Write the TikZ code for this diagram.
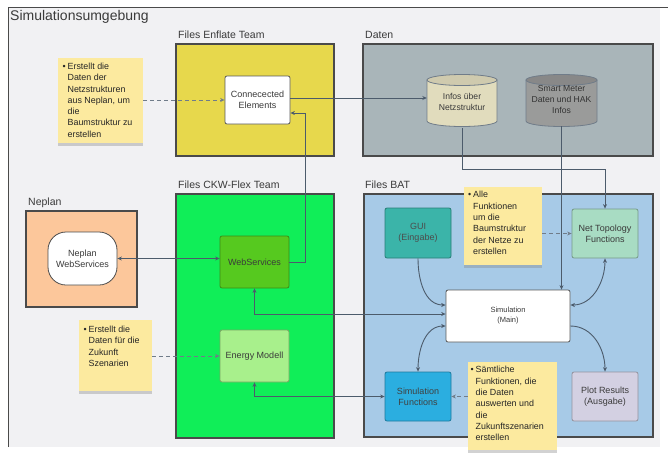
\documentclass[tikz,border=0pt]{standalone}
\usepackage{fontspec}
\setmainfont{Liberation Sans}
\usetikzlibrary{arrows.meta,shadows,calc}
\definecolor{outerbg}{HTML}{F1F1F3}
\definecolor{frame}{HTML}{4A4A4A}
\definecolor{enflate}{HTML}{E7D84C}
\definecolor{daten}{HTML}{A9B5B9}
\definecolor{ckw}{HTML}{10EE58}
\definecolor{neplan}{HTML}{FCC79B}
\definecolor{bat}{HTML}{A7CAE7}
\definecolor{wsgreen}{HTML}{56C91F}
\definecolor{emgreen}{HTML}{A8F08C}
\definecolor{guiteal}{HTML}{3BB4A9}
\definecolor{ntmint}{HTML}{A8DCC3}
\definecolor{sfblue}{HTML}{2BAEE0}
\definecolor{plotlav}{HTML}{D3D0E2}
\definecolor{noteyel}{HTML}{FCEA9F}
\definecolor{cylbeige}{HTML}{E1DCBD}
\definecolor{cylgray}{HTML}{9A9B9A}
\definecolor{linec}{HTML}{4C5B6B}
\definecolor{txt}{HTML}{3A3A3A}
\tikzset{
  team/.style={draw=frame, line width=1.4pt},
  teamlabel/.style={anchor=base west, inner sep=0pt, text=txt, font=\fontsize{10.5}{12}\selectfont},
  box/.style={draw=#1!70!black, fill=#1, line width=0.8pt, rounded corners=2pt, align=center, inner sep=1pt,
    font=\fontsize{9}{11}\selectfont, text=txt},
  note/.style={fill=noteyel, inner sep=0pt, drop shadow={shadow xshift=0pt, shadow yshift=-2.5pt, opacity=0.35},
    font=\fontsize{8.9}{11.3}\selectfont, text=black!85},
  conn/.style={draw=linec, line width=0.9pt, -{Stealth[length=4.5pt,width=4pt]}},
  dconn/.style={draw=linec, line width=0.9pt, {Stealth[length=4.5pt,width=4pt]}-{Stealth[length=4.5pt,width=4pt]}},
  dashconn/.style={draw=linec!80, line width=0.8pt, dashed, dash pattern=on 4pt off 3pt, -{Stealth[length=4.5pt,width=4pt]}},
}
\newcommand{\notetext}[3]{\parbox[c][#2pt][t]{#1pt}{\raggedright
  \begin{tabular}[t]{@{}l@{\hspace{2pt}}l@{}}#3\end{tabular}}}
\begin{document}
\begin{tikzpicture}[x=1pt,y=-1pt]
\useasboundingbox (0,0) rectangle (668,455);
\fill[white] (0,0) rectangle (668,455);
% outer frame
\fill[outerbg] (8,7) rectangle (660,447);
\draw[frame, line width=1pt] (8,447) -- (8,7) -- (668,7);
\node[anchor=base west, inner sep=0pt, text=txt, font=\fontsize{14}{16}\selectfont] (title) at (10,20) {Simulationsumgebung};

% team boxes
\node[teamlabel] (lblEnf) at (178,38) {Files Enflate Team};
\draw[team, fill=enflate] (176,44) rectangle (334,156);
\node[teamlabel] (lblDat) at (365,38) {Daten};
\draw[team, fill=daten] (363,44) rectangle (653,156);
\node[teamlabel] (lblCkw) at (178,188) {Files CKW-Flex Team};
\draw[team, fill=ckw] (176,194) rectangle (334,438);
\node[teamlabel] (lblNep) at (28,205) {Neplan};
\draw[team, fill=neplan] (26,211) rectangle (137,307);
\node[teamlabel] (lblBat) at (365,188) {Files BAT};
\draw[team, fill=bat] (364,194) rectangle (653,437);

% cylinders
\fill[cylbeige, draw=linec!80, line width=0.8pt] (427,80) -- (427,121) arc[start angle=180,end angle=360,x radius=35pt,y radius=5.5pt] -- (497,80) -- cycle;
\draw[fill=cylbeige!92!black, line width=0.8pt, draw=linec!80] (462,80) ellipse[x radius=35pt, y radius=5.5pt];
\node[minimum width=70pt, minimum height=52pt, align=center, text=txt, font=\fontsize{8.6}{11}\selectfont] (cylA) at (462,102) {Infos über\\Netzstruktur};
\fill[cylgray, draw=linec!80, line width=0.8pt] (526,80) -- (526,121) arc[start angle=180,end angle=360,x radius=35.5pt,y radius=5.5pt] -- (597,80) -- cycle;
\draw[fill=cylgray!88!black, line width=0.8pt, draw=linec!80] (561.5,80) ellipse[x radius=35.5pt, y radius=5.5pt];
\node[minimum width=71pt, minimum height=52pt, align=center, text=black!80, font=\fontsize{8.6}{11}\selectfont] (cylB) at (561.5,100) {Smart Meter\\Daten und HAK\\Infos};

% boxes
\node[box=white, draw=gray!70!black, minimum width=65pt, minimum height=48pt] (ce) at (257.5,100) {Connecected\\Elements};
\node[box=wsgreen, minimum width=69pt, minimum height=52pt] (ws) at (254.5,262) {WebServices};
\node[box=emgreen, minimum width=69pt, minimum height=52pt] (em) at (254.5,356) {Energy Modell};
\node[box=white, draw=gray!60!black, rounded corners=18pt, minimum width=69pt, minimum height=53pt] (nws) at (82.5,258.5) {Neplan\\WebServices};
\node[box=guiteal, text=black!70, minimum width=66pt, minimum height=50pt] (gui) at (418,233) {GUI\\(Eingabe)};
\node[box=ntmint, minimum width=66pt, minimum height=49pt] (nt) at (605,233.5) {Net Topology\\Functions};
\node[box=white, draw=gray!70!black, font=\fontsize{7.5}{10}\selectfont, minimum width=124pt, minimum height=52pt] (sim) at (508,316) {Simulation\\(Main)};
\node[box=sfblue, text=black!75, minimum width=66pt, minimum height=49pt] (sf) at (418,396.5) {Simulation\\Functions};
\node[box=plotlav, minimum width=66pt, minimum height=49pt] (plot) at (605,396.5) {Plot Results\\(Ausgabe)};

% notes
\node[note, minimum width=85pt, minimum height=85pt] (n1) at (100.5,100.5)
  {\notetext{76}{78}{\textbullet & Erstellt die\\ & Daten der\\ & Netzstrukturen\\ & aus Neplan, um\\ & die\\ & Baumstruktur zu\\ & erstellen}};
\node[note, minimum width=78pt, minimum height=78pt] (n2) at (503,226)
  {\notetext{70}{72}{\textbullet & Alle\\ & Funktionen\\ & um die\\ & Baumstruktur\\ & der Netze zu\\ & erstellen}};
\node[note, minimum width=89pt, minimum height=88pt] (n3) at (512.5,406)
  {\notetext{84}{82}{\textbullet & Sämtliche\\ & Funktionen, die\\ & die Daten\\ & auswerten und\\ & die\\ & Zukunftszenarien\\ & erstellen}};
\node[note, minimum width=73pt, minimum height=71pt] (n4) at (115.5,355.5)
  {\notetext{64}{62}{\textbullet & Erstellt die\\ & Daten für die\\ & Zukunft\\ & Szenarien}};

% connectors
\draw[dashconn] (n1.east |- ce.west) -- (ce.west);
\draw[conn] ([yshift=2pt]ce.east) -- ([yshift=2pt]ce.east -| cylA.west);
\draw[conn] (ws.east) -- ++(16,0) |- ([yshift=-13pt]ce.east);
\draw[conn] (cylA.south) -- ++(0,41) -| (nt.north);
\draw[conn] (cylB.south) -- (cylB.south |- sim.north);
\draw[dconn] (nws.east) -- (nws.east -| ws.west);
\draw[dconn] (ws.south) |- ([yshift=2pt]sim.west);
\draw[dconn] (em.south) |- (sf.west);
\draw[dashconn] (n4.east |- em.west) -- (em.west);
\draw[dashconn] (n2.east |- nt.west) -- (nt.west);
\draw[dashconn] (n3.west |- sf.east) -- (sf.east);
\draw[conn] (gui.south) to[out=-90,in=180] ([yshift=11pt]sim.west);
\draw[dconn] (nt.south) to[out=-90,in=0] ([yshift=11pt]sim.east);
\draw[dconn] ([yshift=-10pt]sim.west) to[out=180,in=90] (sf.north);
\draw[conn] ([yshift=-10pt]sim.east) to[out=0,in=90] (plot.north);
\end{tikzpicture}
\end{document}
